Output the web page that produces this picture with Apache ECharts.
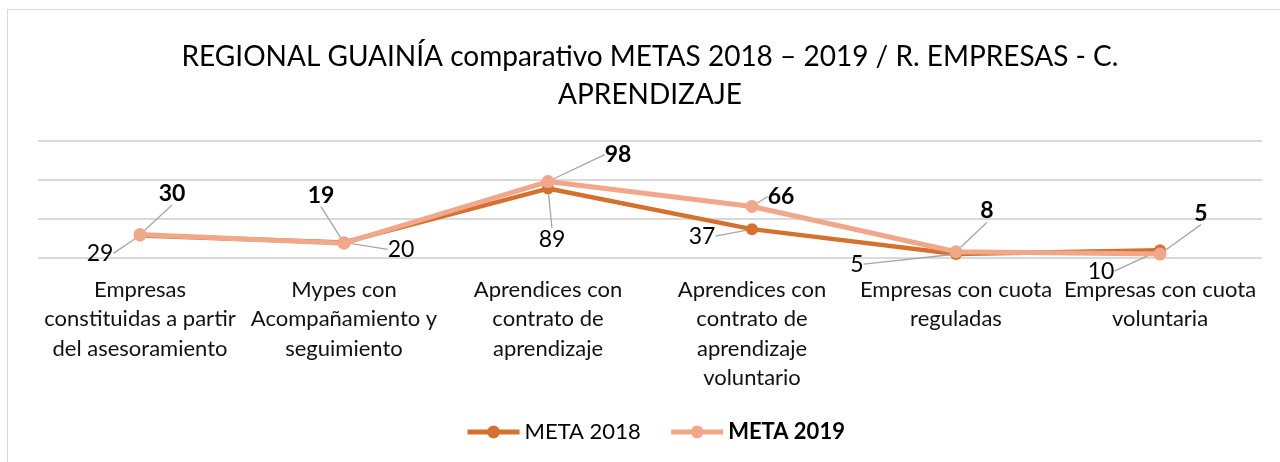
<!DOCTYPE html>
<html>
<head>
<meta charset="utf-8">
<script src="https://cdn.jsdelivr.net/npm/echarts@6/dist/echarts.min.js"></script>
<style>
html,body{margin:0;padding:0;background:#fff;}
#frame{position:absolute;left:7px;top:9px;width:1290px;height:470px;border:1px solid #d9d9d9;box-sizing:border-box;}
#chart{position:absolute;left:0;top:0;width:1280px;height:462px;}
</style>
</head>
<body>
<div id="frame"></div>
<div id="chart"></div>
<script>
const categories = [
  'Empresas\nconstituidas a partir\ndel asesoramiento',
  'Mypes con\nAcompañamiento y\nseguimiento',
  'Aprendices con\ncontrato de\naprendizaje',
  'Aprendices con\ncontrato de\naprendizaje\nvoluntario',
  'Empresas con cuota\nreguladas',
  'Empresas con cuota\nvoluntaria'
];
const meta2018 = [29, 20, 89, 37, 5, 10];
const meta2019 = [30, 19, 98, 66, 8, 5];
const yTicks = [0, 50, 100, 150];

// label displacement (px) relative to each point, for the leader-line labels
const off2018 = [[-40,18],[57,7],[4,51],[-50,7],[-99,10],[-59,21]];
const off2019 = [[32,-41],[-23,-48],[70,-27],[29,-10],[31,-41],[41,-41]];

const FONT = 'Lato, "Open Sans", sans-serif';
const chart = echarts.init(document.getElementById('chart'));
chart.setOption({
  backgroundColor: 'transparent',
  animation: false,
  title: {
    text: 'REGIONAL GUAINÍA comparativo METAS 2018 – 2019 / R. EMPRESAS - C.\nAPRENDIZAJE',
    left: 645, top: 33, textAlign: 'center',
    textStyle: {fontFamily: FONT, fontSize: 28, fontWeight: 'normal', color: '#000', lineHeight: 38}
  },
  legend: {
    bottom: 14, left: 460,
    itemWidth: 52, itemHeight: 16, itemGap: 28,
    lineStyle: {width: 5},
    textStyle: {fontFamily: FONT, fontSize: 22, color: '#000'},
    data: [
      {name: 'META 2018'},
      {name: 'META 2019', textStyle: {fontWeight: 'bold'}}
    ]
  },
  grid: {left: 38, right: 18, top: 141, bottom: 204},
  xAxis: {
    type: 'category', data: categories, boundaryGap: true,
    axisLine: {show: false}, axisTick: {show: false},
    axisLabel: {interval: 0, margin: 17, fontFamily: FONT, fontSize: 22, color: '#111', lineHeight: 29.5}
  },
  yAxis: {
    type: 'value', min: yTicks[0], max: yTicks[yTicks.length-1], interval: yTicks[1]-yTicks[0],
    axisLabel: {show: false}, axisLine: {show: false}, axisTick: {show: false},
    splitLine: {lineStyle: {color: '#d9d9d9', width: 2}}
  },
  series: [
    {
      name: 'META 2018', type: 'line', data: meta2018,
      color: '#D5702E', symbol: 'circle', symbolSize: 12,
      lineStyle: {width: 4.5, color: '#D5702E'},
      itemStyle: {color: '#D5702E'},
      label: {show: true, position: 'inside', fontFamily: FONT, fontSize: 23, color: '#000'},
      labelLine: {show: true, lineStyle: {color: '#a6a6a6', width: 1.3}},
      labelLayout: function (p) { const o = off2018[p.dataIndex]; return {dx: o[0], dy: o[1], hideOverlap: false}; },
      z: 2
    },
    {
      name: 'META 2019', type: 'line', data: meta2019,
      color: '#F1A88A', symbol: 'circle', symbolSize: 13,
      lineStyle: {width: 5, color: '#F1A88A'},
      itemStyle: {color: '#F1A88A'},
      label: {show: true, position: 'inside', fontFamily: FONT, fontSize: 23, fontWeight: 'bold', color: '#000'},
      labelLine: {show: true, lineStyle: {color: '#a6a6a6', width: 1.3}},
      labelLayout: function (p) { const o = off2019[p.dataIndex]; return {dx: o[0], dy: o[1], hideOverlap: false}; },
      z: 3
    }
  ]
});
</script>
</body>
</html>
